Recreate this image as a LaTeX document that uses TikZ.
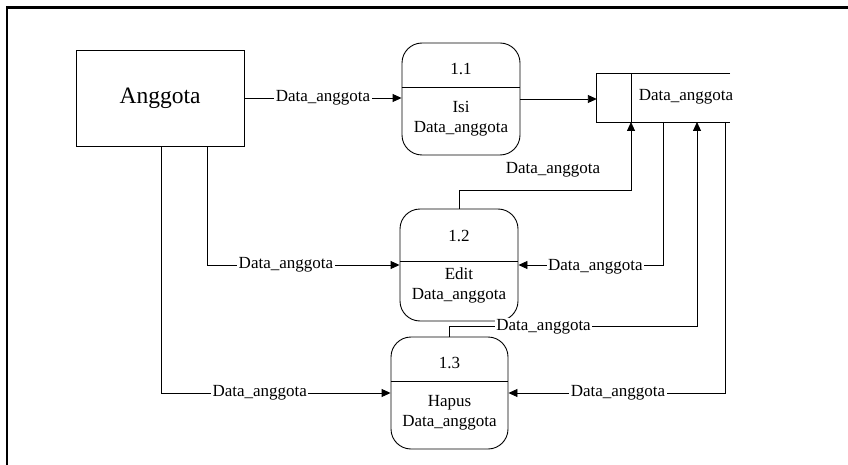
\documentclass[tikz,border=0pt]{standalone}
\usepackage{fontspec}
\setmainfont{Liberation Serif}
\newfontfamily\tnr{Liberation Serif}
\usetikzlibrary{arrows.meta}
\begin{document}
\begin{tikzpicture}[x=1pt,y=-1pt,
  lbl/.style={font=\tnr\fontsize{17}{20}\selectfont, inner sep=1.5pt, fill=white},
  txt/.style={font=\tnr\fontsize{17}{20}\selectfont, inner sep=0pt, align=center},
  proc/.style={draw, rounded corners=20pt, minimum width=118pt, minimum height=112pt, inner sep=0pt, line width=0.9pt},
  flow/.style={-{Triangle[length=9pt,width=8pt]}, line width=0.9pt},
  wire/.style={line width=0.9pt}]
\useasboundingbox (0,0) rectangle (848,465);
% frame
\draw[line width=2.5pt] (7,480) -- (7,7.5) -- (870,7.5);
% external entity
\node[draw, line width=0.9pt, minimum width=168pt, minimum height=96pt, inner sep=0pt,
      font=\tnr\fontsize{23.5}{28}\selectfont] (ang) at (160,98) {Anggota};
% processes
\node[proc] (p1) at (461,99) {};
\node[proc] (p2) at (459,265) {};
\node[proc, minimum width=117pt] (p3) at (449.5,393) {};
\coordinate (y1) at (0,87);
\coordinate (y2) at (0,261);
\coordinate (y3) at (0,381);
\draw[wire] (p1.west |- y1) -- (p1.east |- y1);
\draw[wire] (p2.west |- y2) -- (p2.east |- y2);
\draw[wire] (p3.west |- y3) -- (p3.east |- y3);
\node[txt] (p1n) at (461,69) {1.1};
\node[txt] (p1t) at (461,119) {Isi\\Data\_anggota};
\node[txt] (p2n) at (459,236) {1.2};
\node[txt] (p2t) at (459,285.5) {Edit\\Data\_anggota};
\node[txt] (p3n) at (449.5,363) {1.3};
\node[txt] (p3t) at (449.5,413) {Hapus\\Data\_anggota};
% data store
\node[minimum width=133pt, minimum height=48pt, inner sep=0pt] (ds) at (663.5,98) {};
\draw[wire] (ds.north east) -- (ds.north west) -- (ds.south west) -- (ds.south east);
\coordinate (s1) at (631,122);
\coordinate (s1t) at (631,74);
\draw[wire] (s1t) -- (s1);
\node[txt] (dst) at (686,97) {Data\_anggota};
\coordinate (s2) at (663,122);
\coordinate (s3) at (697,122);
\coordinate (s4) at (725,122);
\coordinate (x207) at (207,0);
\coordinate (x161) at (161,0);
% flows
\draw[flow] (ang.east) -- node[lbl, pos=0.5] {Data\_anggota} (ang.east -| p1.west);
\draw[flow] (p1.east) -- (p1.east -| ds.west);
\draw[flow] (ang.south -| x207) |- node[lbl, pos=0.705] {Data\_anggota} (p2.west);
\draw[flow] (ang.south -| x161) |- node[lbl, pos=0.715] {Data\_anggota} (p3.west);
\draw[flow] (p2.north) -- ++(0,-18) -| (s1);
\node[txt] (l5) at (553,170) {Data\_anggota};
\draw[flow] (s2) |- node[lbl, pos=0.734, yshift=-2pt] {Data\_anggota} (p2.east);
\draw[flow] (p3.north) -- ++(0,-10) -| node[lbl, pos=0.19] {Data\_anggota} (s3);
\draw[flow] (s4) |- node[lbl, pos=0.747] {Data\_anggota} (p3.east);
\end{tikzpicture}
\end{document}
